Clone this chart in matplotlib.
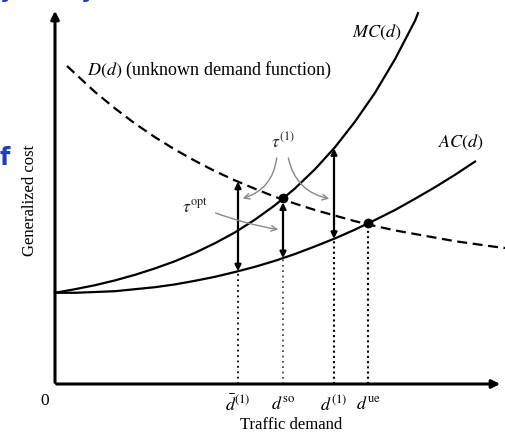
import matplotlib.pyplot as plt
import numpy as np

plt.rcParams['font.family'] = ['Liberation Serif', 'DejaVu Serif']
plt.rcParams['mathtext.fontset'] = 'stix'

# Curves (demand, cost)
mc_d = [0, 0.5, 1, 1.5, 2, 2.5, 3, 3.5, 4, 4.5, 5, 5.5, 6, 6.5, 7, 7.5, 8, 8.5, 9, 9.075]
mc_c = [2.28, 2.37, 2.47, 2.59, 2.73, 2.89, 3.07, 3.28, 3.52, 3.79, 4.11, 4.47, 4.89, 5.37,
        5.92, 6.56, 7.28, 8.12, 9.08, 9.27]

ac_d = [0, 0.5, 1, 1.5, 2, 2.5, 3, 3.5, 4, 4.5, 5, 5.5, 6, 6.5, 7, 7.5, 8, 8.5, 9, 9.5, 10, 10.5]
ac_c = [2.28, 2.28, 2.30, 2.32, 2.37, 2.42, 2.49, 2.58, 2.68, 2.80, 2.93, 3.08, 3.25, 3.44,
        3.64, 3.86, 4.10, 4.35, 4.63, 4.92, 5.23, 5.56]

dem_d = [0.3, 1, 1.5, 2, 2.5, 3, 3.5, 4, 4.5, 5, 5.5, 6, 6.5, 7, 7.5, 8, 8.5, 9, 9.5, 10,
         10.5, 11, 11.25]
dem_c = [7.95, 7.30, 6.89, 6.51, 6.17, 5.86, 5.58, 5.32, 5.09, 4.88, 4.68, 4.51, 4.35, 4.21,
         4.07, 3.95, 3.84, 3.75, 3.66, 3.57, 3.50, 3.43, 3.40]

# demand levels marked on the x axis
d_bar1 = 4.575
d_so = 5.7
d_1 = 6.975
d_ue = 7.825
tick_pos = [d_bar1, d_so, d_1, d_ue]
tick_lab = [r'$\bar{d}^{(1)}$', r'$d^{\mathrm{so}}$', r'$d^{(1)}$', r'$d^{\mathrm{ue}}$']

fig = plt.figure(figsize=(5.06, 4.37), dpi=100)
ax = fig.add_axes([0, 0, 1, 1])
ax.set_xlim(-1.375, 11.275)
ax.set_ylim(-1.325, 9.6)
ax.axis('off')

def mc(x):
    return np.interp(x, mc_d, mc_c)

def ac(x):
    return np.interp(x, ac_d, ac_c)

def dem(x):
    return np.interp(x, dem_d, dem_c)

# axes with arrows
ax.annotate('', xy=(11.2, 0), xytext=(-0.03, 0),
            arrowprops=dict(arrowstyle='-|>', lw=2.2, color='black', mutation_scale=12))
ax.annotate('', xy=(0, 9.4), xytext=(0, -0.03),
            arrowprops=dict(arrowstyle='-|>', lw=2.2, color='black', mutation_scale=12))

ax.plot(mc_d, mc_c, color='black', lw=1.6)
ax.plot(ac_d, ac_c, color='black', lw=1.6)
ax.plot(dem_d, dem_c, color='black', lw=1.6, dashes=(4.5, 2.5))

# dotted drop lines
ax.plot([d_bar1, d_bar1], [0, ac(d_bar1)], color='black', lw=1.3, ls=(0, (1, 2)))
ax.plot([d_so, d_so], [0, ac(d_so)], color='#333333', lw=1.2, ls=(0, (1, 2.2)))
ax.plot([d_1, d_1], [0, ac(d_1)], color='black', lw=1.5, ls=(0, (1, 1.5)))
ax.plot([d_ue, d_ue], [0, ac(d_ue)], color='black', lw=1.5, ls=(0, (1, 1.5)))

# toll arrows
arr = dict(arrowstyle='<|-|>', lw=1.6, color='black', mutation_scale=9,
           shrinkA=0, shrinkB=0)
ax.annotate('', xy=(d_bar1, dem(d_bar1)), xytext=(d_bar1, ac(d_bar1)), arrowprops=arr)
ax.annotate('', xy=(d_so, mc(d_so) - 0.1), xytext=(d_so, ac(d_so)), arrowprops=arr)
ax.annotate('', xy=(d_1, mc(d_1)), xytext=(d_1, ac(d_1)), arrowprops=arr)

# equilibrium points
ax.plot([d_so, d_ue], [mc(d_so), ac(d_ue)], 'o', color='black', ms=6)

# tau annotations
gray = dict(arrowstyle='->', lw=1.0, color='#888888', mutation_scale=10)
ax.text(5.7, 6.05, r'$\tau^{(1)}$', fontsize=12.5, ha='center', va='center', color='#222222')
ax.annotate('', xy=(d_bar1 + 0.05, 4.62), xytext=(5.55, 5.72),
            arrowprops=dict(gray, connectionstyle='arc3,rad=-0.35'))
ax.annotate('', xy=(d_1 - 0.05, 4.62), xytext=(5.82, 5.72),
            arrowprops=dict(gray, connectionstyle='arc3,rad=0.35'))
ax.text(3.5, 4.4, r'$\tau^{\mathrm{opt}}$', fontsize=12.5, ha='center', va='center', color='#222222')
ax.annotate('', xy=(d_so - 0.05, 3.85), xytext=(3.95, 4.3),
            arrowprops=dict(gray, connectionstyle='arc3,rad=0.05'))

# curve labels
ax.text(8.05, 8.8, r'$MC(d)$', fontsize=13, ha='center', va='center')
ax.text(10.15, 6.03, r'$AC(d)$', fontsize=13, ha='center', va='center')
ax.text(0.8, 7.85, r'$D(d)$ (unknown demand function)', fontsize=13, ha='left', va='center')

# tick labels
ax.text(-0.25, -0.42, '0', fontsize=12.5, ha='center', va='center')
for p, lab in zip(tick_pos, tick_lab):
    ax.text(p, -0.52, lab, fontsize=13, ha='center', va='center')

ax.text(5.9, -1.02, 'Traffic demand', fontsize=12, ha='center', va='center')
ax.text(-0.62, 4.6, 'Generalized cost', fontsize=12, ha='center', va='center', rotation=90)

# slide remnants in blue
ax.text(-1.25, 5.65, 'f', fontsize=17, color='#1f3fb5', fontweight='bold',
        family='DejaVu Sans', ha='center', va='center')
ax.text(-1.2, 9.66, 'y', fontsize=16, color='#1f3fb5', fontweight='bold',
        family='DejaVu Sans', ha='center', va='baseline')
ax.text(0.82, 9.66, 'y', fontsize=16, color='#1f3fb5', fontweight='bold',
        family='DejaVu Sans', ha='center', va='baseline')

fig.savefig('out.png', dpi=100)
